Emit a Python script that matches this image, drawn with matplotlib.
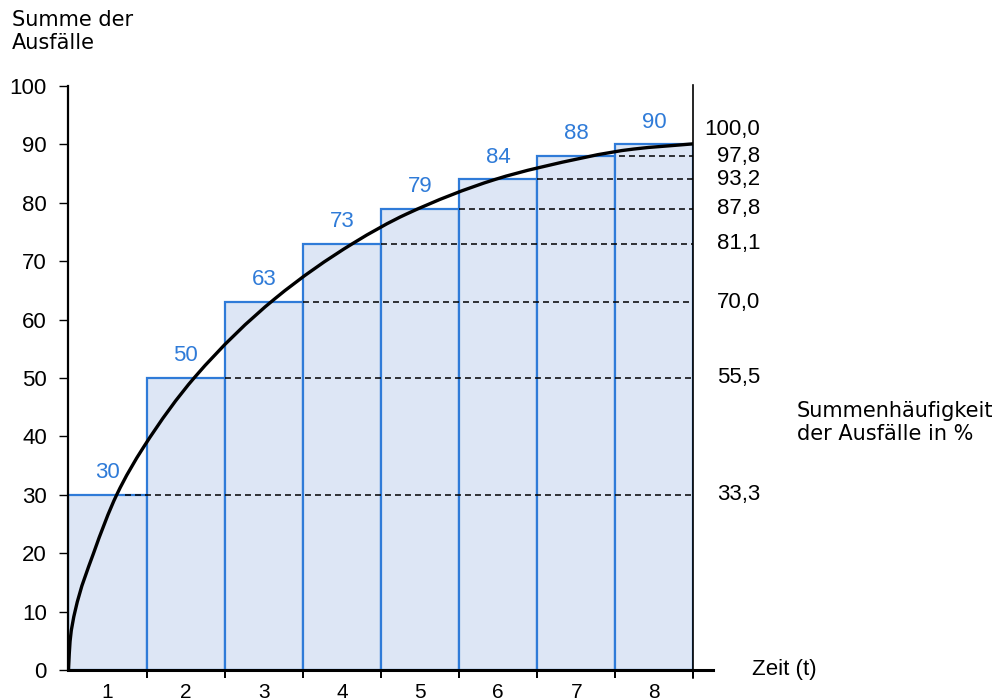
import numpy as np
import matplotlib
matplotlib.use("Agg")
import matplotlib.pyplot as plt
from matplotlib.path import Path
from matplotlib.patches import PathPatch

# --- data ---
periods = ["1", "2", "3", "4", "5", "6", "7", "8"]
failures = [30, 50, 63, 73, 79, 84, 88, 90]
cum_pct = [33.3, 55.5, 70.0, 81.1, 87.8, 93.2, 97.8, 100.0]
dash_from = [0.72, 2, 3, 4, 5, 6, 7.05]   # where each dashed guide starts (x)

# trend curve
curve_x = [0, 0.02, 0.083, 0.318, 0.617, 0.958, 1.62, 2.644,
           3.647, 4.33, 5.461, 6.015, 7.232, 8.0]
curve_y = [0, 4.9, 10.0, 19.9, 30.0, 38.1, 50.2, 63.6,
           73.1, 78.1, 84.0, 86.0, 89.2, 90.1]

BLUE = "#2f7bd8"
FILL = "#dde6f5"
NUM_FONT = ["Liberation Sans", "DejaVu Sans"]
TXT_FONT = ["DejaVu Sans"]

plt.rcParams["lines.scale_dashes"] = False


def smooth_path(xs, ys):
    # monotone cubic (pchip-style) through the read points, as Bezier segments
    x = np.asarray(xs, float)
    y = np.asarray(ys, float)
    h = np.diff(x)
    d = np.diff(y) / h
    m = np.empty_like(x)
    m[0], m[-1] = d[0], d[-1]
    for k in range(1, len(x) - 1):
        if d[k - 1] * d[k] <= 0:
            m[k] = 0.0
        else:
            w1 = 2 * h[k] + h[k - 1]
            w2 = h[k] + 2 * h[k - 1]
            m[k] = (w1 + w2) / (w1 / d[k - 1] + w2 / d[k])
    verts = [(x[0], y[0])]
    codes = [Path.MOVETO]
    for k in range(len(x) - 1):
        t = h[k] / 3.0
        verts += [(x[k] + t, y[k] + m[k] * t),
                  (x[k + 1] - t, y[k + 1] - m[k + 1] * t),
                  (x[k + 1], y[k + 1])]
        codes += [Path.CURVE4] * 3
    return Path(verts, codes)


fig = plt.figure(figsize=(10.03, 7.0), dpi=100)
ax = fig.add_axes([68.5 / 1003, 30 / 700, 625 / 1003, 584 / 700])

n = len(failures)
centers = np.arange(n) + 0.5
ax.bar(centers, failures, width=1.0, color=FILL, edgecolor=BLUE,
       linewidth=1.6, zorder=1)

for c, v in zip(centers, failures):
    ax.annotate(str(v), (c, v), xytext=(0, 12), textcoords="offset points",
                ha="center", va="baseline", color=BLUE, fontsize=16,
                family=NUM_FONT)

# dashed guides to the right axis
ax.hlines(failures[:-1], dash_from, n, colors="black",
          linestyles=(0, (4.3, 2.9)), linewidth=1.1, zorder=3)

# trend curve
ax.add_patch(PathPatch(smooth_path(curve_x, curve_y), facecolor="none",
                       edgecolor="black", lw=2.4, zorder=4,
                       capstyle="round", joinstyle="round"))

# right-hand percentage labels
for i, (v, p) in enumerate(zip(failures, cum_pct)):
    dy = 11 if i == n - 1 else 0
    ax.annotate(f"{p:.1f}".replace(".", ","), (n, v), xytext=(48, dy),
                textcoords="offset points", ha="right", va="center",
                fontsize=16, family=NUM_FONT, annotation_clip=False)

ax.set_xlim(0, n)
ax.set_ylim(0, 100)

# spines
for s in ["top", "right", "bottom"]:
    ax.spines[s].set_visible(False)
ax.spines["left"].set_linewidth(1.6)
ax.plot([0, n + 0.25], [0, 0], color="black", lw=2.2, clip_on=False, zorder=5)
ax.plot([n, n], [100.2, -1.4], color="black", lw=1.2, clip_on=False, zorder=5)

# y ticks
ax.set_yticks(np.arange(0, 101, 10))
ax.tick_params(axis="y", direction="out", length=6.5, width=1.0, pad=9,
               labelsize=16)
for lab in ax.get_yticklabels():
    lab.set_family(NUM_FONT)

# x ticks: marks at boundaries, labels at bar centres
ax.set_xticks(np.arange(1, n + 1))
ax.set_xticklabels([])
ax.tick_params(axis="x", which="major", direction="out", length=5.8, width=1.4)
ax.set_xticks(centers, minor=True)
ax.set_xticklabels(periods, minor=True)
ax.tick_params(axis="x", which="minor", length=0, pad=9, labelsize=15)
for lab in ax.get_xticklabels(minor=True):
    lab.set_family(NUM_FONT)

ax.annotate("Zeit (t)", (n, 0), xytext=(42, 0), textcoords="offset points",
            ha="left", va="center", fontsize=16, family=NUM_FONT,
            annotation_clip=False)

fig.text(12 / 1003, 1 - 10 / 700, "Summe der\nAusfälle", ha="left", va="top",
         fontsize=15, family=TXT_FONT, linespacing=1.2)
fig.text(797 / 1003, 1 - 401 / 700, "Summenhäufigkeit\nder Ausfälle in %",
         ha="left", va="top", fontsize=15, family=TXT_FONT, linespacing=1.2)

fig.savefig("out.png", dpi=100)
